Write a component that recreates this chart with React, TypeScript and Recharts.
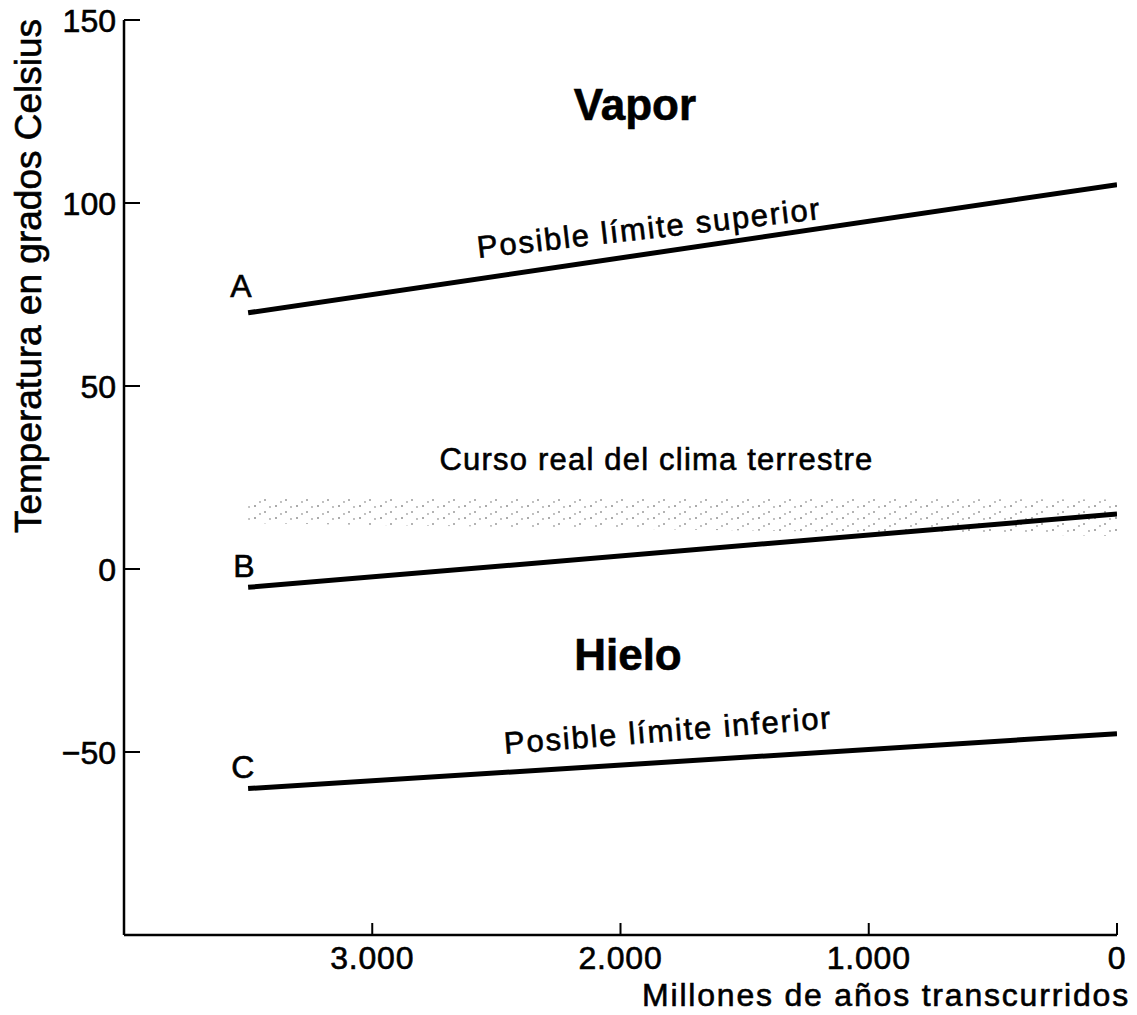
import React from 'react';
import {ComposedChart, Line, Area, XAxis, YAxis, ReferenceDot} from 'recharts';

// millones de años antes del presente
const years = [3500, 0];
const upperLimit = [70, 105];
const realCourse = [-5, 15];
const lowerLimit = [-60, -45];
const stippleLow = [12.5, 9];
const stippleHigh = [19.5, 19];

const xTicks = [3000, 2000, 1000, 0];
const yTicks = [150, 100, 50, 0, -50];

const FONT = '"Liberation Sans", Arial, Helvetica, sans-serif';

const lineA = years.map((x, i) => ({x, t: upperLimit[i]}));
const lineB = years.map((x, i) => ({x, t: realCourse[i]}));
const lineC = years.map((x, i) => ({x, t: lowerLimit[i]}));
const band = years.map((x, i) => ({x, range: [stippleLow[i], stippleHigh[i]]}));

const fmtYear = (v: number) => (v === 0 ? '0' : v.toLocaleString('de-DE'));
const fmtTemp = (v: number) => (v < 0 ? '\u2212' + Math.abs(v) : String(v));

const ink = {fill: '#000', stroke: '#000', strokeWidth: 0.6};

const XTick = ({x, y, payload}: any) => (
    <g>
        <line x1={x} y1={y} x2={x} y2={y - 12} stroke="#000" strokeWidth={2}/>
        <text x={x} y={y + 34} textAnchor="middle" fontFamily={FONT} fontSize={32}
              letterSpacing={0.8} {...ink}>
            {fmtYear(payload.value)}
        </text>
    </g>
);

const YTick = ({x, y, payload}: any) => (
    <g>
        <line x1={x} y1={y} x2={x + 16} y2={y} stroke="#000" strokeWidth={2}/>
        <text x={x - 8} y={y + 12} textAnchor="end" fontFamily={FONT} fontSize={32} {...ink}>
            {fmtTemp(payload.value)}
        </text>
    </g>
);

// texto anclado a un punto del gráfico
const note = (text: string, opts: any = {}) => (props: any) => {
    const {x, y} = props.viewBox;
    const angle = opts.angle || 0;
    return (
        <text x={x} y={y} textAnchor={opts.anchor || 'middle'} fontFamily={FONT}
              fontSize={opts.size || 31} fontWeight={opts.bold ? 'bold' : 'normal'}
              letterSpacing={opts.spacing || 0} {...ink}
              transform={angle ? `rotate(${angle}, ${x}, ${y})` : undefined}>
            {text}
        </text>
    );
};

const notes = [
    {x: 1942, t: 122.6, label: note('Vapor', {size: 44, bold: true})},
    {x: 1970, t: -27.7, label: note('Hielo', {size: 44, bold: true})},
    {x: 1880, t: 90.3, label: note('Posible límite superior', {angle: -6.5, spacing: 1.8})},
    {x: 1855, t: 27.0, label: note('Curso real del clima terrestre', {spacing: 1.2})},
    {x: 1805, t: -47, label: note('Posible límite inferior', {angle: -4.5, spacing: 1.8})},
    {x: 3529, t: 74.2, label: note('A', {size: 32})},
    {x: 3517, t: -2.3, label: note('B', {size: 32})},
    {x: 3521, t: -57, label: note('C', {size: 32})},
];

const App = () => (
    <div style={{position: 'absolute', left: 0, top: 0, background: '#fff'}}>
        <ComposedChart width={1137} height={1015} margin={{top: 20, right: 20, bottom: 0, left: 0}}>
            <defs>
                <pattern id="stipple" width="21" height="12" patternUnits="userSpaceOnUse">
                    <circle cx="3" cy="2" r="1" fill="#444"/>
                    <circle cx="13" cy="8" r="1" fill="#555"/>
                    <circle cx="18" cy="3" r="0.9" fill="#666"/>
                    <circle cx="8" cy="10" r="0.9" fill="#666"/>
                </pattern>
            </defs>
            <XAxis type="number" dataKey="x" domain={[0, 4000]} reversed ticks={xTicks}
                   allowDataOverflow interval={0} height={80} tickSize={0} tickMargin={0}
                   stroke="#000" strokeWidth={2.5} tick={<XTick/>}
                   label={() => (
                       <text x={1130} y={1006} textAnchor="end" fontFamily={FONT} fontSize={32}
                             letterSpacing={1.8} {...ink}>Millones de años transcurridos</text>
                   )}/>
            <YAxis type="number" domain={[-100, 150]} ticks={yTicks} interval={0} width={124}
                   tickSize={0} tickMargin={0} stroke="#000" strokeWidth={2.5} tick={<YTick/>}
                   label={() => (
                       <text x={41} y={276} textAnchor="middle" fontFamily={FONT} fontSize={37}
                             {...ink} transform="rotate(-90, 41, 276)">
                           Temperatura en grados Celsius
                       </text>
                   )}/>
            <Area data={band} dataKey="range" type="linear" stroke="none" fill="url(#stipple)"
                  isAnimationActive={false}/>
            <Line data={lineA} dataKey="t" type="linear" stroke="#000" strokeWidth={5} dot={false}
                  isAnimationActive={false}/>
            <Line data={lineB} dataKey="t" type="linear" stroke="#000" strokeWidth={5} dot={false}
                  isAnimationActive={false}/>
            <Line data={lineC} dataKey="t" type="linear" stroke="#000" strokeWidth={5} dot={false}
                  isAnimationActive={false}/>
            {notes.map((n, i) => (
                <ReferenceDot key={i} x={n.x} y={n.t} r={0} stroke="none" fill="none" label={n.label}/>
            ))}
        </ComposedChart>
    </div>
);

export default App;
